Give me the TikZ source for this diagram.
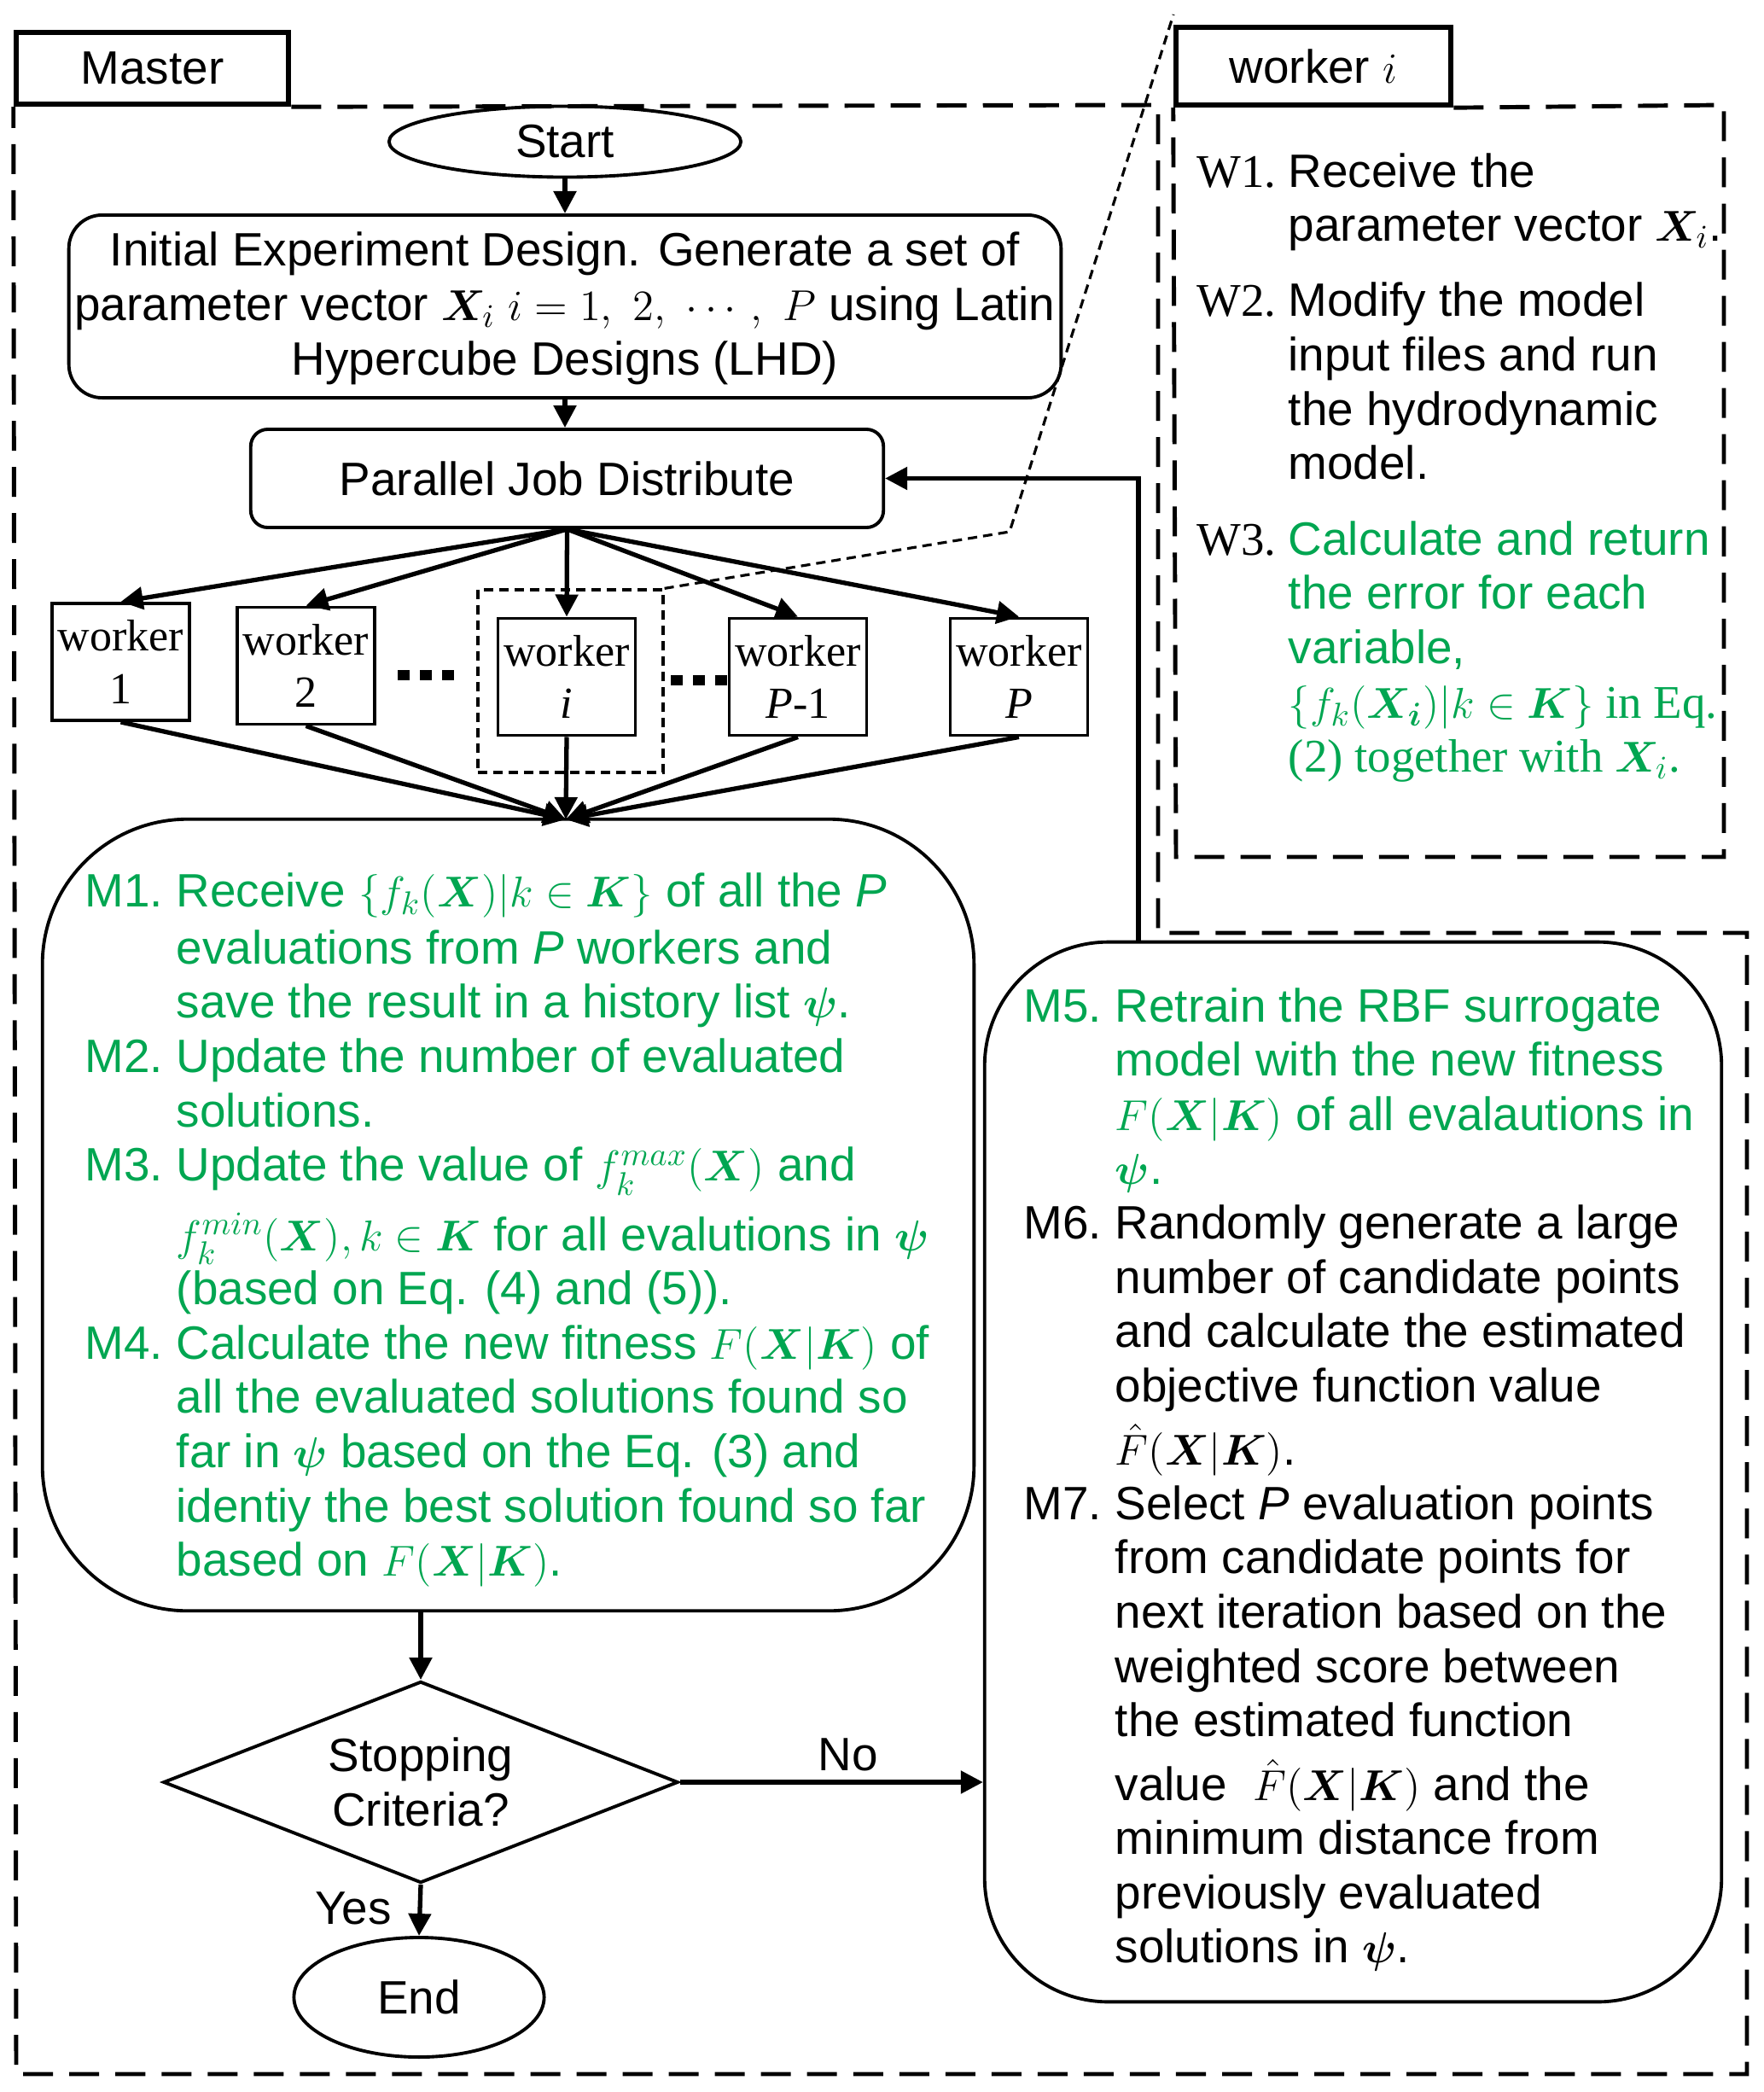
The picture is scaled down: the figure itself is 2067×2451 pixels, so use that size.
\documentclass[tikz,border=0pt]{standalone}
\usepackage[no-math]{fontspec}
\usepackage{amsmath,bm}
\setmainfont{Liberation Sans}
\newfontfamily\timesfont{Liberation Serif}
\usetikzlibrary{arrows.meta,shapes.geometric}
\definecolor{stepgreen}{RGB}{0,166,81}
\newcommand{\bodyfont}{\fontsize{15.6}{18.1}\selectfont}
\newcommand{\wfont}{\timesfont\fontsize{14.8}{17.4}\selectfont}

\begin{document}
\begin{tikzpicture}[x=0.01cm,y=-0.01cm,font=\bodyfont,
  arr/.style={line width=1.5pt,-{Triangle[length=0.26cm,width=0.26cm]}},
  flowbox/.style={draw,line width=1.1pt,rounded corners=#1,inner sep=0pt},
  workerbox/.style={draw,line width=1.1pt,minimum width=1.61cm,minimum height=1.37cm,inner sep=0pt,align=center,font=\wfont},
  tagbox/.style={draw,line width=1.8pt,inner sep=0pt},
  bigdash/.style={line width=1.4pt,dash pattern=on 0.35cm off 0.19cm},
  smalldash/.style={line width=0.9pt,dash pattern=on 0.11cm off 0.07cm},
  dotrow/.style={line width=0.12cm,dash pattern=on 0.14cm off 0.12cm},
  steptext/.style={anchor=base west,inner sep=0pt}]
\useasboundingbox (0,0) rectangle (2067,2451);

\node[tagbox,minimum width=3.19cm,minimum height=0.84cm] (master) at (178.5,80) {Master};
\node[tagbox,minimum width=3.22cm,minimum height=0.91cm] (wtag) at (1539,77.5) {worker $i$};
\draw[bigdash] (master.south east) -- (1357,123) -- (1357,1093) -- (2047,1093) -- (2047,2430) -- (19,2430) -- (master.south west);
\draw[bigdash] (wtag.south east) -- (2020,123) -- (2020,1004) -- (1378,1004) -- (wtag.south west);

\node[draw,ellipse,line width=1.1pt,minimum width=4.12cm,minimum height=0.83cm,inner sep=0pt] (start) at (662,166) {Start};
\node[flowbox=0.39cm,minimum width=11.62cm,minimum height=2.14cm,align=center] (init) at (662,359)
  {\strut Initial Experiment Design. Generate a set of\\
   parameter vector $\bm{X}_i$ $i=1,\ 2,\ \cdots,\ P$ using Latin\\
   Hypercube Designs (LHD)};
\node[flowbox=0.2cm,minimum width=7.41cm,minimum height=1.15cm] (pjd) at (664.5,560.5) {Parallel Job Distribute};
\draw[arr] (start.south) -- (init.north);
\draw[arr] (init.south) -- (init.south |- pjd.north);

\node[workerbox] (w1) at (141.5,775.5) {worker\\1};
\node[workerbox] (w2) at (358.5,780) {worker\\2};
\node[workerbox] (wi) at (664,793) {worker\\\textit{i}};
\node[workerbox] (wp1) at (935,793) {worker\\\textit{P}-1};
\node[workerbox] (wp) at (1194,793) {worker\\\textit{P}};
\node[draw,smalldash,minimum width=2.17cm,minimum height=2.14cm,inner sep=0pt] (wizoom) at (668.5,798) {};
\draw[dotrow] (466,791) -- (535,791);
\draw[dotrow] (786,797) -- (854,797);

\coordinate (bend) at (1183,623);
\coordinate (calltop) at (1375,17);
\draw[smalldash] (wizoom.north east) -- (bend) -- (calltop);

\coordinate (mtop) at (663,960);
\foreach \w in {w1,w2,wi,wp1,wp}{
  \draw[arr] (pjd.south) -- (\w.north);
  \draw[arr] (\w.south) -- (mtop);
}

\node[flowbox=1.7cm,minimum width=10.91cm,minimum height=9.27cm] (mbox) at (595.5,1423.5) {};
\node[steptext,text=stepgreen] (mtext) at (99,1062) {%
\begin{tabular}[t]{@{}p{1.07cm}@{}l@{}}
M1. & Receive $\{f_k(\bm{X})|k\in\bm{K}\}$ of all the \textit{P}\\[1pt]
 & evaluations from \textit{P} workers and\\
 & save the result in a history list $\bm{\psi}$.\\
M2. & Update the number of evaluated\\
 & solutions.\\
M3. & Update the value of $f_k^{max}(\bm{X})$ and\\[5pt]
 & $f_k^{min}(\bm{X}), k\in\bm{K}$ for all evalutions in $\bm{\psi}$\\
 & (based on Eq. (4) and (5)).\\
M4. & Calculate the new fitness $F(\bm{X}|\bm{K})$ of\\
 & all the evaluated solutions found so\\
 & far in $\bm{\psi}$ based on the Eq. (3) and\\
 & identiy the best solution found so far\\
 & based on $F(\bm{X}|\bm{K})$.
\end{tabular}};

\node[steptext] (wtext) at (1402,219) {%
\begin{tabular}[t]{@{}p{1.07cm}@{}l@{}}
\timesfont W1. & Receive the\\
 & parameter vector $\bm{X}_i$.\\[7pt]
\timesfont W2. & Modify the model\\
 & input files and run\\
 & the hydrodynamic\\
 & model.\\[7pt]
\timesfont W3. & \textcolor{stepgreen}{Calculate and return}\\
 & \textcolor{stepgreen}{the error for each}\\
 & \textcolor{stepgreen}{variable,}\\
 & \textcolor{stepgreen}{\timesfont $\{f_k(\bm{X_i})|k\in\bm{K}\}$ in Eq.}\\
 & \textcolor{stepgreen}{\timesfont (2) together with $\bm{X}_i$.}
\end{tabular}};

\node[draw,diamond,aspect=2.55,line width=1.1pt,minimum width=6.03cm,minimum height=2.36cm,inner sep=0pt,align=center] (stop) at (493,2088) {Stopping\\Criteria?};
\node[draw,ellipse,line width=1.1pt,minimum width=2.93cm,minimum height=1.4cm,inner sep=0pt] (finish) at (491,2340) {End};
\draw[arr] (stop.north |- mbox.south) -- (stop.north);
\draw[arr] (stop.south) -- (finish.north);
\node (yes) at (414,2236) {Yes};
\node (no) at (994,2056) {No};

\node[flowbox=1.45cm,minimum width=8.63cm,minimum height=12.41cm] (rbox) at (1585.5,1724.5) {};
\node[steptext] (rtext) at (1199,1197) {%
\begin{tabular}[t]{@{}p{1.07cm}@{}l@{}}
\textcolor{stepgreen}{M5.} & \textcolor{stepgreen}{Retrain the RBF surrogate}\\
 & \textcolor{stepgreen}{model with the new fitness}\\
 & \textcolor{stepgreen}{$F(\bm{X}|\bm{K})$ of all evalautions in}\\
 & \textcolor{stepgreen}{$\bm{\psi}$.}\\
M6. & Randomly generate a large\\
 & number of candidate points\\
 & and calculate the estimated\\
 & objective function value\\[2pt]
 & $\hat{F}(\bm{X}|\bm{K})$.\\
M7. & Select \textit{P} evaluation points\\
 & from candidate points for\\
 & next iteration based on the\\
 & weighted score between\\
 & the estimated function\\[2pt]
 & value \ $\hat{F}(\bm{X}|\bm{K})$ and the\\
 & minimum distance from\\
 & previously evaluated\\
 & solutions in $\bm{\psi}$.
\end{tabular}};
\draw[arr] (stop.east) -- (stop.east -| rbox.west);
\coordinate (fb) at (1334,1104);
\draw[arr] (fb) |- (pjd.east);
\end{tikzpicture}
\end{document}
